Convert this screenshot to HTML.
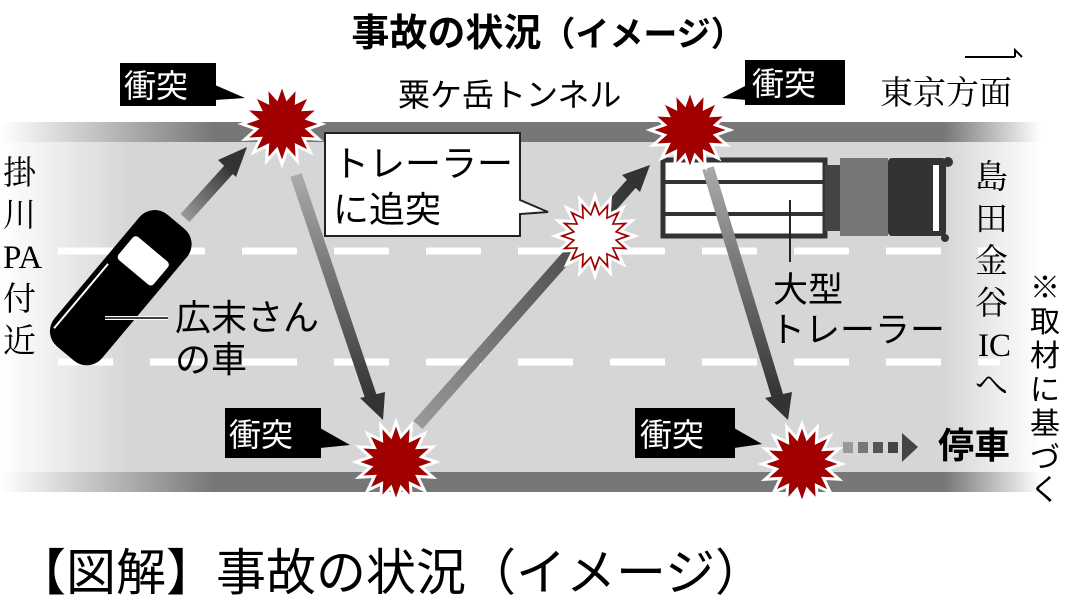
<!DOCTYPE html>
<html><head><meta charset="utf-8"><style>
html,body{margin:0;padding:0;background:#fff;}
svg{display:block;font-family:"Liberation Sans","Noto Sans CJK JP",sans-serif;}
</style></head><body>
<svg width="1073" height="604" viewBox="0 0 1073 604" xmlns="http://www.w3.org/2000/svg">
<defs>
<linearGradient id="rl" x1="0" x2="1" y1="0" y2="0">
<stop offset="0" stop-color="#fff"/><stop offset="0.12" stop-color="#d6d6d6"/><stop offset="0.88" stop-color="#d6d6d6"/><stop offset="0.97" stop-color="#fff"/></linearGradient>
<linearGradient id="st" x1="0" x2="1" y1="0" y2="0">
<stop offset="0" stop-color="#fff"/><stop offset="0.2" stop-color="#777"/><stop offset="0.88" stop-color="#777"/><stop offset="0.97" stop-color="#fff"/></linearGradient>
<linearGradient id="a1" x1="0" y1="1" x2="1" y2="0"><stop offset="0" stop-color="#999"/><stop offset="1" stop-color="#333"/></linearGradient>
<linearGradient id="a2" x1="0" y1="0" x2="0" y2="1"><stop offset="0" stop-color="#aaa"/><stop offset="1" stop-color="#333"/></linearGradient>
<linearGradient id="sp" x1="0" x2="1"><stop offset="0" stop-color="#ddd" stop-opacity="0"/><stop offset="1" stop-color="#444"/></linearGradient>
</defs>
<rect x="0" y="122" width="1073" height="370" fill="url(#rl)"/>
<rect x="0" y="122" width="1073" height="20" fill="url(#st)"/>
<rect x="0" y="472" width="1073" height="20" fill="url(#st)"/>
<g stroke="#fff" stroke-width="7" stroke-dasharray="55,37">
<line x1="58" y1="251" x2="1000" y2="251"/>
<line x1="58" y1="362" x2="1000" y2="362"/>
</g>
<g stroke="url(#sp)" stroke-width="3">
<line x1="560" y1="160" x2="660" y2="160"/><line x1="560" y1="180" x2="660" y2="180"/><line x1="560" y1="212" x2="660" y2="212"/><line x1="560" y1="234" x2="660" y2="234"/>
</g>
<rect x="663" y="160" width="162" height="76" fill="#fff" stroke="#333" stroke-width="5"/>
<line x1="663" y1="182" x2="825" y2="182" stroke="#333" stroke-width="4"/>
<line x1="663" y1="214" x2="825" y2="214" stroke="#333" stroke-width="4"/>
<rect x="825" y="165" width="15" height="66" fill="#444"/>
<rect x="840" y="158" width="48" height="78" fill="#777"/>
<rect x="888" y="158" width="58" height="78" rx="4" fill="#333"/>
<rect x="933" y="165" width="6" height="66" fill="#fff"/>
<circle cx="948" cy="162" r="5" fill="#333"/><circle cx="945" cy="238" r="4" fill="#333"/>
<line x1="790" y1="200" x2="790" y2="262" stroke="#222" stroke-width="2"/>
<g>
<line x1="185" y1="218" x2="232" y2="166" stroke="url(#a1)" stroke-width="12"/>
<polygon points="247,147 218,160 236,177" fill="#333"/>
<line x1="296" y1="175" x2="372" y2="400" stroke="url(#a2)" stroke-width="12"/>
<polygon points="383,420 360,398 385,392" fill="#333"/>
<line x1="418" y1="425" x2="632" y2="183" stroke="url(#a1)" stroke-width="12"/>
<polygon points="650,165 622,175 640,192" fill="#333"/>
<line x1="708" y1="168" x2="778" y2="398" stroke="url(#a2)" stroke-width="12"/>
<polygon points="788,420 765,398 792,392" fill="#333"/>
<g fill="#444"><rect x="843" y="442" width="10" height="11" fill="#999"/><rect x="858" y="442" width="10" height="11" fill="#777"/><rect x="873" y="442" width="10" height="11" fill="#555"/><rect x="888" y="442" width="10" height="11"/><polygon points="902,433 918,447 902,462"/></g>
</g>
<g transform="translate(120,287) rotate(40)">
<rect x="-30" y="-86" width="62" height="172" rx="20" fill="#000"/>
<rect x="-22" y="-50" width="46" height="30" rx="4" fill="#fff"/>
<line x1="-24" y1="-10" x2="-24" y2="74" stroke="#fff" stroke-width="2"/>
</g>
<line x1="105" y1="318" x2="168" y2="318" stroke="#fff" stroke-width="4"/>
<line x1="105" y1="318" x2="168" y2="318" stroke="#000" stroke-width="1.5"/>
<g id="bursts"></g>
<g fill="#000">
<rect x="120" y="63" width="96" height="43"/><polygon points="215,85 245,98 215,100"/>
<rect x="745" y="60" width="100" height="45"/><polygon points="747,85 722,98 747,100"/>
<rect x="225" y="408" width="96" height="50"/><polygon points="320,428 350,445 320,448"/>
<rect x="635" y="408" width="100" height="50"/><polygon points="734,428 762,444 734,448"/>
</g>
<g fill="#fff" font-size="32">
<text x="124" y="97">衝突</text><text x="752" y="95">衝突</text>
<text x="229" y="446">衝突</text><text x="640" y="446">衝突</text>
</g>
<path d="M325,133 H520 V200 L548,212 L520,214 V236 H325 Z" fill="#fff" stroke="#222" stroke-width="2"/>
<g font-size="36" fill="#000">
<text x="333" y="176">トレーラー</text><text x="333" y="222">に追突</text>
</g>
<g font-size="34" fill="#000">
<text x="548" y="46" text-anchor="middle" font-weight="bold" font-size="38">事故の状況<tspan font-size="34">（イメージ）</tspan></text>
<text x="398" y="106" font-size="32">粟ケ岳トンネル</text>
<text x="880" y="104" font-size="33" font-family="Liberation Serif,Noto Serif CJK SC,serif">東京方面</text>
<text x="175" y="330" font-size="36">広末さん</text>
<text x="175" y="372" font-size="36">の車</text>
<text x="773" y="302" font-size="35">大型</text>
<text x="770" y="342" font-size="35">トレーラー</text>
<text x="938" y="458" font-size="36" font-weight="bold">停車</text>
<text x="16" y="590" font-size="50">【図解】事故の状況（イメージ）</text>
</g>
<path d="M965,57 H1015 M1015,57 V50 L1022,57" stroke="#000" stroke-width="2" fill="none"/>
<g font-size="33" font-family="Liberation Serif,Noto Serif CJK SC,serif" fill="#000">
<text x="3" y="184">掛</text><text x="3" y="226">川</text><text x="3" y="268">PA</text><text x="3" y="310">付</text><text x="3" y="352">近</text>
<text x="975" y="188">島</text><text x="975" y="230">田</text><text x="975" y="272">金</text><text x="975" y="314">谷</text><text x="978" y="356">IC</text><text x="975" y="396">へ</text>
</g>
<g font-size="30" fill="#000">
<text x="1030" y="298">※</text><text x="1030" y="332">取</text><text x="1030" y="366">材</text><text x="1030" y="400">に</text><text x="1030" y="434">基</text><text x="1030" y="468">づ</text><text x="1030" y="500">く</text>
</g>
<script>
function star(cx,cy,ro,ri,n){let p=[];for(let i=0;i<2*n;i++){let r=i%2?ri:ro,a=Math.PI*i/n;p.push((cx+r*Math.cos(a)).toFixed(1)+','+(cy+r*Math.sin(a)).toFixed(1));}return p.join(' ');}
var ns='http://www.w3.org/2000/svg',g=document.getElementById('bursts');
[[282,124,'#a00000'],[396,462,'#a00000'],[690,130,'#a00000'],[802,464,'#a00000'],[595,236,'w']].forEach(function(b){
 var p=document.createElementNS(ns,'polygon');p.setAttribute('points',star(b[0],b[1],40,26,16));
 p.setAttribute('stroke','#fff');p.setAttribute('stroke-width','3');p.setAttribute('fill','#a00000');g.appendChild(p);
 if(b[2]=='w'){var c=document.createElementNS(ns,'polygon');c.setAttribute('points',star(b[0],b[1],30,20,16));c.setAttribute('fill','#fff');g.appendChild(c);}
});
</script>
</svg>
</body></html>
